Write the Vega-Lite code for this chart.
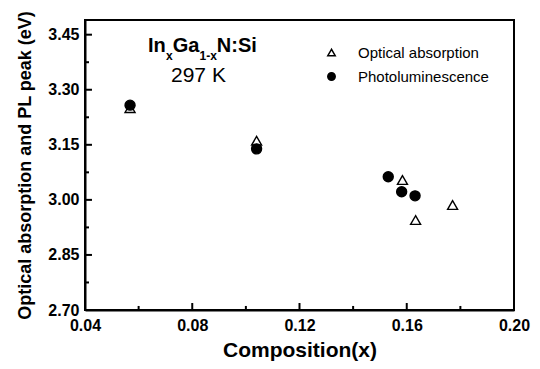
{
  "$schema": "https://vega.github.io/schema/vega-lite/v6.json",
  "width": 429,
  "height": 290,
  "autosize": "none",
  "padding": {"left": 85, "top": 20, "right": 26, "bottom": 59},
  "background": "white",
  "config": {
    "view": {"stroke": "black", "strokeWidth": 2},
    "font": "Liberation Sans",
    "legend": {
      "padding": 0,
      "labelFontSize": 15,
      "labelFont": "Liberation Sans",
      "labelColor": "black",
      "symbolSize": 55,
      "rowPadding": 8,
      "labelOffset": 19
    }
  },
  "layer": [
    {
      "data": {
        "values": [
          {"composition": 0.0568, "energy": 3.250, "series": "Optical absorption"},
          {"composition": 0.1040, "energy": 3.161, "series": "Optical absorption"},
          {"composition": 0.1584, "energy": 3.054, "series": "Optical absorption"},
          {"composition": 0.1633, "energy": 2.945, "series": "Optical absorption"},
          {"composition": 0.1771, "energy": 2.986, "series": "Optical absorption"},
          {"composition": 0.0568, "energy": 3.258, "series": "Photoluminescence"},
          {"composition": 0.1040, "energy": 3.139, "series": "Photoluminescence"},
          {"composition": 0.1531, "energy": 3.063, "series": "Photoluminescence"},
          {"composition": 0.1581, "energy": 3.022, "series": "Photoluminescence"},
          {"composition": 0.1631, "energy": 3.011, "series": "Photoluminescence"}
        ]
      },
      "mark": {"type": "point", "filled": true, "stroke": "black", "strokeWidth": 1.4, "size": 100, "opacity": 1},
      "encoding": {
        "x": {
          "field": "composition",
          "type": "quantitative",
          "scale": {"domain": [0.04, 0.2], "nice": false, "zero": false},
          "axis": {
            "orient": "bottom",
            "title": "Composition(x)",
            "titleFontSize": 21,
            "titleFontWeight": "bold",
            "titleColor": "black",
            "titlePadding": 6,
            "labelFontSize": 16,
            "labelFontWeight": "bold",
            "labelColor": "black",
            "labelPadding": 7,
            "labelFlush": false,
            "labelOverlap": false,
            "values": [0.04, 0.08, 0.12, 0.16, 0.2],
            "format": ".2f",
            "ticks": false,
            "tickSize": 0,
            "domain": true,
            "domainColor": "black",
            "domainWidth": 2,
            "grid": false
          }
        },
        "y": {
          "field": "energy",
          "type": "quantitative",
          "scale": {"domain": [2.7, 3.49], "nice": false, "zero": false},
          "axis": {
            "orient": "left",
            "title": "Optical absorption and PL peak (eV)",
            "titleFontSize": 18,
            "titleFontWeight": "bold",
            "titleColor": "black",
            "titlePadding": 13,
            "labelFontSize": 16,
            "labelFontWeight": "bold",
            "labelColor": "black",
            "labelPadding": 6,
            "labelFlush": false,
            "labelOverlap": false,
            "values": [2.7, 2.85, 3.0, 3.15, 3.3, 3.45],
            "format": ".2f",
            "ticks": false,
            "tickSize": 0,
            "domain": true,
            "domainColor": "black",
            "domainWidth": 2,
            "grid": false
          }
        },
        "shape": {
          "field": "series",
          "type": "nominal",
          "scale": {"domain": ["Optical absorption", "Photoluminescence"], "range": ["triangle-up", "circle"]},
          "legend": {"title": null, "orient": "none", "legendX": 239, "legendY": 25, "encode": {"symbols": {"update": {"stroke": {"value": "black"}, "strokeWidth": {"value": 1.2}}}}}
        },
        "fill": {
          "field": "series",
          "type": "nominal",
          "scale": {"domain": ["Optical absorption", "Photoluminescence"], "range": ["white", "black"]},
          "legend": {"title": null, "orient": "none", "legendX": 239, "legendY": 25, "encode": {"symbols": {"update": {"stroke": {"value": "black"}, "strokeWidth": {"value": 1.2}}}}}
        }
      }
    },
    {
      "data": {"values": [{"composition": 0.08}, {"composition": 0.12}, {"composition": 0.16}]},
      "mark": {"type": "rule", "color": "black", "strokeWidth": 2},
      "encoding": {
        "x": {"field": "composition", "type": "quantitative"},
        "y": {"datum": 2.7, "type": "quantitative"},
        "y2": {"datum": 2.719}
      }
    },
    {
      "data": {"values": [{"composition": 0.06}, {"composition": 0.1}, {"composition": 0.14}, {"composition": 0.18}]},
      "mark": {"type": "rule", "color": "black", "strokeWidth": 2},
      "encoding": {
        "x": {"field": "composition", "type": "quantitative"},
        "y": {"datum": 2.7, "type": "quantitative"},
        "y2": {"datum": 2.711}
      }
    },
    {
      "data": {"values": [{"energy": 2.85}, {"energy": 3.0}, {"energy": 3.15}, {"energy": 3.3}, {"energy": 3.45}]},
      "mark": {"type": "rule", "color": "black", "strokeWidth": 2},
      "encoding": {
        "y": {"field": "energy", "type": "quantitative"},
        "x": {"datum": 0.04, "type": "quantitative"},
        "x2": {"datum": 0.0426}
      }
    },
    {
      "data": {"values": [{"energy": 2.775}, {"energy": 2.925}, {"energy": 3.075}, {"energy": 3.225}, {"energy": 3.375}]},
      "mark": {"type": "rule", "color": "black", "strokeWidth": 2},
      "encoding": {
        "y": {"field": "energy", "type": "quantitative"},
        "x": {"datum": 0.04, "type": "quantitative"},
        "x2": {"datum": 0.0415}
      }
    },
    {
      "data": {
        "values": [
          {"composition": 0.0635, "energy": 3.4028, "label": "In"},
          {"composition": 0.07271, "energy": 3.4028, "label": "Ga"},
          {"composition": 0.08916, "energy": 3.4028, "label": "N:Si"}
        ]
      },
      "mark": {"type": "text", "align": "left", "baseline": "alphabetic", "fontSize": 20, "fontWeight": "bold", "color": "black"},
      "encoding": {
        "x": {"field": "composition", "type": "quantitative"},
        "y": {"field": "energy", "type": "quantitative"},
        "text": {"field": "label"}
      }
    },
    {
      "data": {
        "values": [
          {"composition": 0.07021, "energy": 3.381, "label": "x"},
          {"composition": 0.08271, "energy": 3.381, "label": "1-x"}
        ]
      },
      "mark": {"type": "text", "align": "left", "baseline": "alphabetic", "fontSize": 12, "fontWeight": "bold", "color": "black"},
      "encoding": {
        "x": {"field": "composition", "type": "quantitative"},
        "y": {"field": "energy", "type": "quantitative"},
        "text": {"field": "label"}
      }
    },
    {
      "data": {
        "values": [
          {"composition": 0.07208, "energy": 3.321, "label": "297 K"}
        ]
      },
      "mark": {"type": "text", "align": "left", "baseline": "alphabetic", "fontSize": 21, "color": "black"},
      "encoding": {
        "x": {"field": "composition", "type": "quantitative"},
        "y": {"field": "energy", "type": "quantitative"},
        "text": {"field": "label"}
      }
    }
  ]
}
